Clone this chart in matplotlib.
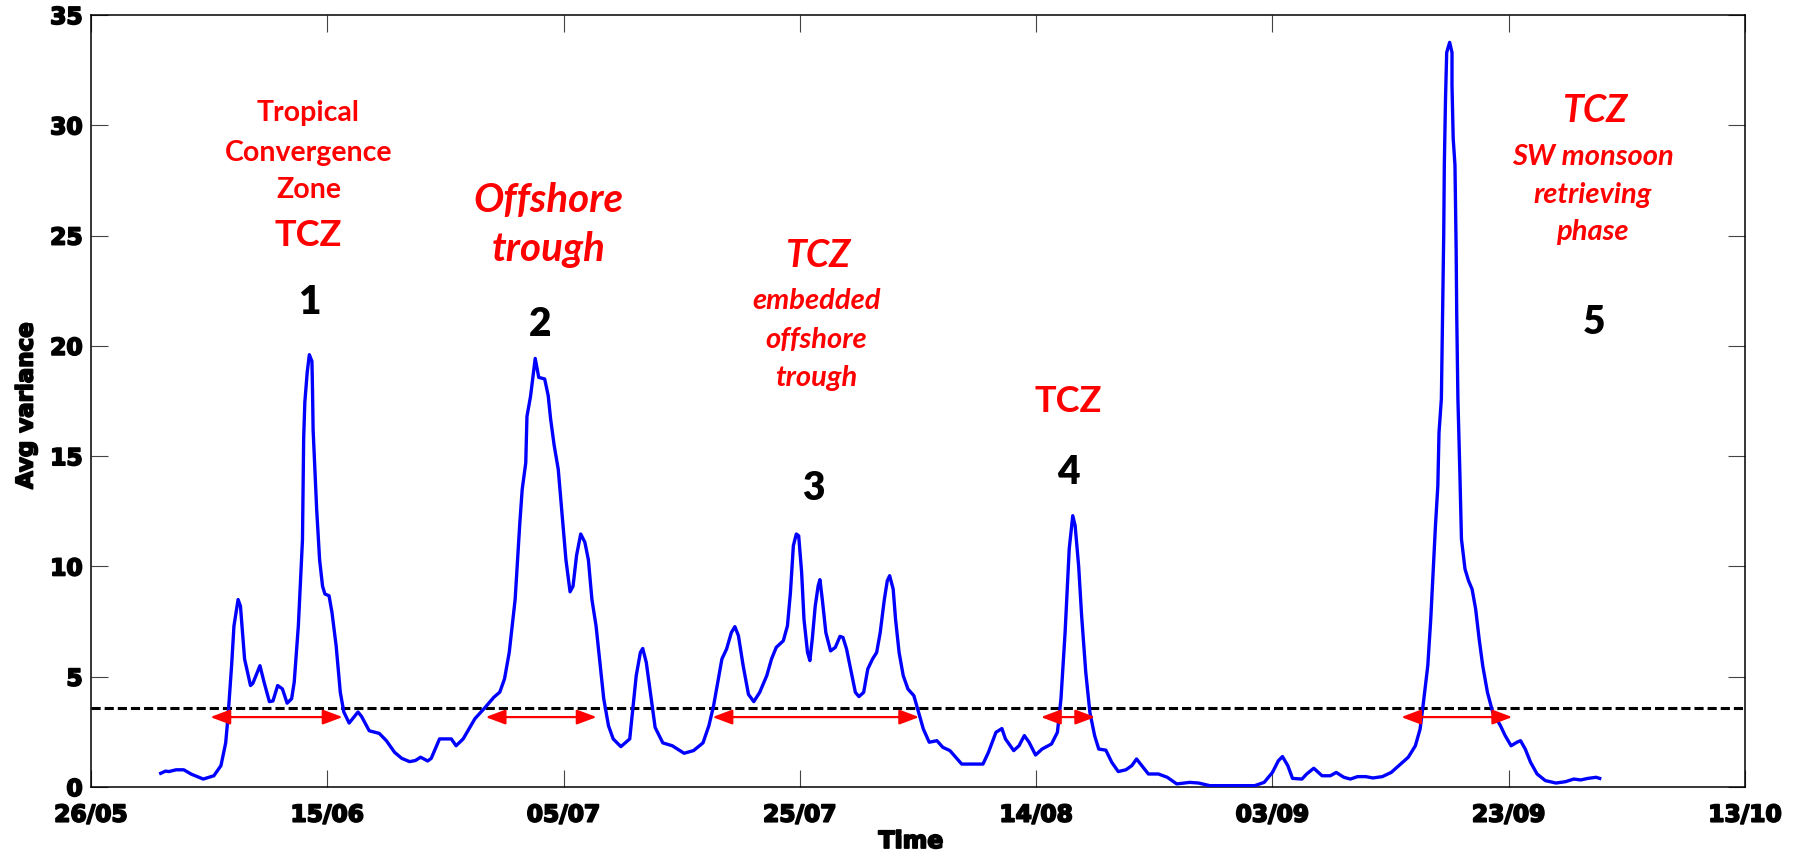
import matplotlib
matplotlib.use("Agg")
import matplotlib.pyplot as plt
import matplotlib.patheffects as pe

# Days after 26/05 and the averaged variance at each sample
days = [5.9, 6.3, 6.6, 7.2, 7.85, 8.5, 9.5, 10.4, 11.0, 11.4, 11.6, 11.9, 12.1, 12.45,
        12.65, 13.0, 13.5, 13.7, 14.3, 14.65, 15.1, 15.4, 15.8, 16.2, 16.6, 16.98, 17.2,
        17.55, 17.9, 18.0, 18.1, 18.3, 18.48, 18.7, 18.75, 18.8, 19.1, 19.35, 19.6, 19.8,
        20.15, 20.4, 20.75, 21.1, 21.4, 21.85, 22.6, 22.9, 23.55, 24.4, 25.0, 25.7, 26.3,
        26.97, 27.45, 27.9, 28.5, 28.8, 29.5, 30.5, 30.9, 31.5, 32.5, 33.3, 34.1, 34.6,
        35.0, 35.4, 35.9, 36.3, 36.5, 36.8, 36.9, 37.2, 37.6, 37.9, 38.4, 38.7, 38.9,
        39.2, 39.55, 39.85, 40.2, 40.55, 40.8, 41.1, 41.45, 41.8, 42.1, 42.4, 42.75, 43.1,
        43.4, 43.8, 44.2, 44.85, 45.6, 45.8, 46.15, 46.5, 46.7, 47.0, 47.35, 47.75, 48.4,
        49.2, 50.2, 51.0, 51.8, 52.3, 52.7, 53.1, 53.4, 53.8, 54.2, 54.5, 54.8, 55.2,
        55.65, 56.1, 56.6, 57.2, 57.6, 58.0, 58.6, 58.95, 59.2, 59.45, 59.7, 59.9, 60.15,
        60.35, 60.65, 60.85, 61.05, 61.3, 61.55, 61.7, 61.9, 62.2, 62.6, 63.0, 63.4, 63.65,
        63.95, 64.3, 64.7, 65.0, 65.4, 65.75, 66.15, 66.5, 66.8, 67.15, 67.4, 67.6, 67.9,
        68.1, 68.4, 68.75, 69.15, 69.65, 69.97, 70.45, 70.95, 71.6, 72.1, 72.7, 73.7, 75.5,
        75.96, 76.6, 77.1, 77.4, 78.1, 78.55, 79.0, 79.4, 79.95, 80.5, 81.3, 81.8, 82.1,
        82.45, 82.8, 83.1, 83.3, 83.6, 83.85, 84.2, 84.55, 84.95, 85.3, 85.9, 86.4, 86.95,
        87.6, 88.1, 88.5, 89.0, 89.5, 90.35, 91.1, 91.9, 93.0, 93.75, 94.7, 98.5, 99.3,
        100.0, 100.5, 100.85, 101.3, 101.7, 102.5, 102.9, 103.5, 104.2, 104.9, 105.4,
        106.05, 106.6, 107.2, 107.9, 108.5, 109.3, 110.05, 110.7, 111.5, 112.1, 112.5,
        112.75, 113.15, 113.4, 113.6, 113.8, 114.0, 114.1, 114.3, 114.4, 114.5, 114.55,
        114.65, 114.75, 115.0, 115.2, 115.2, 115.3, 115.45, 115.55, 115.6, 115.7, 115.85,
        116.0, 116.3, 116.6, 116.9, 117.2, 117.5, 117.8, 118.2, 118.65, 119.3, 119.7,
        120.2, 120.7, 121.0, 121.4, 121.85, 122.4, 123.1, 124.0, 124.8, 125.5, 126.1,
        126.7, 127.4, 127.7]
variance = [0.62, 0.72, 0.70, 0.78, 0.78, 0.58, 0.36, 0.51, 0.97, 2.0, 3.2, 5.5, 7.3, 8.5,
            8.2, 5.8, 4.6, 4.7, 5.5, 4.75, 3.87, 3.9, 4.6, 4.45, 3.8, 4.0, 4.75,
            7.3, 11.2, 15.8, 17.45, 18.8, 19.6, 19.3, 18.0, 16.2, 12.6, 10.3, 9.1, 8.75,
            8.67, 7.9, 6.4, 4.3, 3.4, 2.9, 3.4, 3.2, 2.55, 2.43, 2.1, 1.57, 1.3,
            1.15, 1.2, 1.35, 1.18, 1.3, 2.18, 2.18, 1.87, 2.18, 3.1, 3.57, 4.07, 4.3,
            4.9, 6.1, 8.5, 12.0, 13.5, 14.7, 16.8, 17.7, 19.43, 18.57, 18.5, 17.74, 16.7,
            15.5, 14.4, 12.5, 10.3, 8.85, 9.1, 10.5, 11.47, 11.1, 10.3, 8.5, 7.3, 5.5,
            4.0, 2.78, 2.18, 1.83, 2.18, 3.23, 5.05, 6.1, 6.28, 5.65, 4.29, 2.7, 2.0,
            1.87, 1.53, 1.65, 2.0, 2.78, 3.69, 4.9, 5.8, 6.26, 7.0, 7.27, 6.86, 5.5,
            4.2, 3.87, 4.29, 5.05, 5.8, 6.33, 6.63, 7.31, 8.8, 10.94, 11.47, 11.39, 9.73,
            7.6, 6.1, 5.73, 6.7, 8.2, 9.12, 9.4, 8.5, 7.0, 6.17, 6.33, 6.83, 6.78,
            6.26, 5.35, 4.29, 4.1, 4.29, 5.35, 5.8, 6.1, 7.0, 8.5, 9.35, 9.58, 8.97,
            7.6, 6.1, 5.05, 4.44, 4.14, 3.54, 2.63, 2.03, 2.1, 1.8, 1.65, 1.04, 1.04,
            1.57, 2.48, 2.65, 2.18, 1.65, 1.87, 2.33, 2.03, 1.45, 1.72, 1.95, 2.48, 3.99,
            7.0, 10.8, 12.3, 11.85, 10.0, 7.76, 5.2, 3.38, 2.33, 1.72, 1.67, 1.12, 0.7,
            0.78, 0.97, 1.27, 0.93, 0.59, 0.59, 0.44, 0.14, 0.21, 0.18, 0.06, 0.06, 0.21,
            0.66, 1.19, 1.38, 0.97, 0.39, 0.36, 0.59, 0.85, 0.51, 0.51, 0.66,
            0.44, 0.36, 0.47, 0.47, 0.41, 0.47, 0.66, 0.97, 1.35, 1.87, 2.63,
            3.69, 5.5, 7.6, 9.73, 11.85, 13.65, 16.07, 17.6, 21.4, 25.1, 28.2,
            31.2, 33.3, 33.76, 33.3, 31.8, 29.4, 28.2, 24.4, 21.4, 17.6, 14.56,
            11.24, 9.88, 9.35, 8.97, 8.07, 6.7, 5.5, 4.29, 3.38, 2.78, 2.33,
            1.87, 2.03, 2.1, 1.72, 1.12, 0.59, 0.29, 0.18, 0.24, 0.36, 0.32,
            0.39, 0.44, 0.39]

threshold = 3.6

# Event spans (start day, end day) marked by double-headed arrows
span_starts = [10.1, 33.4, 52.6, 80.4, 110.9]
span_ends = [21.3, 42.8, 70.1, 85.0, 120.3]
span_level = 3.17

tick_days = [0, 20, 40, 60, 80, 100, 120, 140]
tick_labels = ["26/05", "15/06", "05/07", "25/07", "14/08", "03/09", "23/09", "13/10"]
y_ticks = [0, 5, 10, 15, 20, 25, 30, 35]

W, H = 1801, 853
fig = plt.figure(figsize=(W / 100, H / 100), dpi=100)
L, R, T, B = 91, 1745, 16, 788
ax = fig.add_axes([L / W, 1 - B / H, (R - L) / W, (B - T) / H])

ax.plot(days, variance, color="#0000ff", lw=2.4, zorder=3)
ax.axhline(threshold, color="black", lw=2.2, dashes=(3, 1.3), zorder=2)

for s, e in zip(span_starts, span_ends):
    ax.annotate("", xy=(e, span_level), xytext=(s, span_level),
                arrowprops=dict(arrowstyle="<|-|>,head_length=1.2,head_width=0.45",
                                color="#ff0000", lw=1.6, shrinkA=0, shrinkB=0,
                                mutation_scale=10), zorder=4)

ax.set_xlim(0, 140)
ax.set_ylim(0, 35)
ax.set_xticks(tick_days)
ax.set_xticklabels(tick_labels)
ax.set_yticks(y_ticks)
ax.set_yticklabels([str(v) for v in y_ticks])

heavy = [pe.withStroke(linewidth=1.3, foreground="black")]
for lab in ax.get_xticklabels() + ax.get_yticklabels():
    lab.set_fontfamily("DejaVu Sans")
    lab.set_fontweight("bold")
    lab.set_fontsize(16.8)
    lab.set_path_effects(heavy)

ax.tick_params(axis="both", direction="in", length=12, width=0.8, color="#444444",
               top=True, right=True)
ax.tick_params(axis="x", pad=12)
ax.tick_params(axis="y", pad=6)
for sp in ax.spines.values():
    sp.set_linewidth(1.1)
    sp.set_color("black")

fig.text(911 / W, 1 - 842 / H, "Time", ha="center", va="center",
         family="DejaVu Sans", weight="bold", size=17, path_effects=heavy)
fig.text(26 / W, 1 - 407 / H, "Avg variance", ha="center", va="center", rotation=90,
         family="DejaVu Sans", weight="bold", size=16.5, path_effects=heavy)

red = "#ff0000"
ann_font = "Lato"


def put(x, y, s, size, style="normal", color=red, weight="bold"):
    ax.text(x, y, s, ha="center", va="center", color=color, fontsize=size,
            family=ann_font, weight=weight, style=style, zorder=5)


# Event 1
put(18.4, 30.6, "Tropical", 20.5)
put(18.4, 28.8, "Convergence", 20.5)
put(18.4, 27.1, "Zone", 20.5)
put(18.4, 25.07, "TCZ", 26)
put(18.45, 22.03, "1", 28, color="black", weight="heavy")
# Event 2
put(38.7, 26.65, "Offshore", 29, "italic")
put(38.7, 24.4, "trough", 29, "italic")
put(38.0, 21.0, "2", 28, color="black", weight="heavy")
# Event 3
put(61.5, 24.16, "TCZ", 27, "italic")
put(61.4, 22.1, "embedded", 21, "italic")
put(61.4, 20.3, "offshore", 21, "italic")
put(61.4, 18.6, "trough", 21, "italic")
put(61.1, 13.6, "3", 28, color="black", weight="heavy")
# Event 4
put(82.7, 17.5, "TCZ", 26)
put(82.7, 14.3, "4", 28, color="black", weight="heavy")
# Event 5
put(127.3, 30.7, "TCZ", 27, "italic")
put(127.1, 28.6, "SW monsoon", 21, "italic")
put(127.1, 26.9, "retrieving", 21, "italic")
put(127.1, 25.2, "phase", 21, "italic")
put(127.2, 21.1, "5", 28, color="black", weight="heavy")

fig.savefig("out.png", dpi=100, facecolor="white")
